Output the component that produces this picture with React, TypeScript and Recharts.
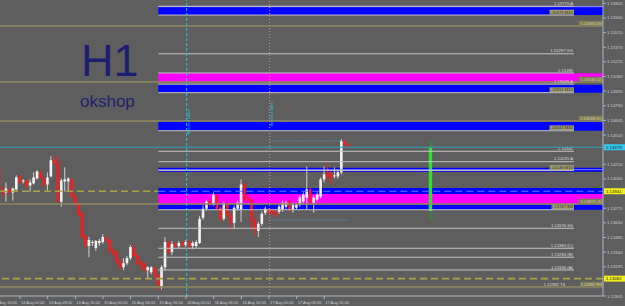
import React from "react";
import { ComposedChart, Bar, XAxis, YAxis, ReferenceLine, ReferenceArea } from "recharts";

// EURUSD H1, one bar per hour, first bar = 13 Aug 18:00
const opens = [
  1.1419, 1.1396, 1.1393, 1.1396, 1.1393, 1.1396, 1.1409, 1.1404, 1.1405, 1.14,
  1.1402, 1.1407, 1.1413, 1.1407, 1.1401, 1.1409, 1.1425, 1.1423, 1.1384, 1.1404,
  1.1404, 1.1406, 1.139, 1.1382, 1.1373, 1.135, 1.134, 1.1343, 1.1338, 1.1343,
  1.1344, 1.1348, 1.1346, 1.1336, 1.1334, 1.1325, 1.1319, 1.1323, 1.1328, 1.1338,
  1.1331, 1.1324, 1.1323, 1.1316, 1.1314, 1.1318, 1.1311, 1.13, 1.1319, 1.1344,
  1.1334, 1.1342, 1.134, 1.1343, 1.1341, 1.1344, 1.134, 1.134, 1.1343, 1.1368,
  1.1377, 1.1385, 1.1381, 1.139, 1.1378, 1.1367, 1.1382, 1.1371, 1.1363, 1.1377,
  1.1376, 1.1401, 1.1388, 1.1386, 1.1366, 1.1355, 1.1362, 1.1373, 1.1376, 1.1375,
  1.1374, 1.1374, 1.1376, 1.1379, 1.1384, 1.1376, 1.1378, 1.1381, 1.1384, 1.1388,
  1.1396, 1.1383, 1.1386, 1.1389, 1.1406, 1.1413, 1.1411, 1.1409, 1.1409, 1.1413,
  1.1444, 1.1441,
];
const highs = [
  1.1426, 1.1399, 1.1403, 1.1398, 1.1398, 1.141, 1.1411, 1.1406, 1.1406, 1.1406,
  1.1413, 1.1415, 1.1415, 1.1408, 1.1413, 1.1429, 1.1429, 1.1429, 1.1407, 1.1418,
  1.1408, 1.1407, 1.1391, 1.1383, 1.1374, 1.1352, 1.1349, 1.1346, 1.1346, 1.1347,
  1.1352, 1.135, 1.1347, 1.1338, 1.1335, 1.1327, 1.1328, 1.133, 1.1341, 1.1342,
  1.1332, 1.1326, 1.1324, 1.132, 1.132, 1.132, 1.1313, 1.1321, 1.1349, 1.1346,
  1.1345, 1.1344, 1.1345, 1.1346, 1.1346, 1.1346, 1.1345, 1.1346, 1.137, 1.138,
  1.1386, 1.1387, 1.1393, 1.1392, 1.138, 1.1384, 1.1384, 1.1373, 1.138, 1.1385,
  1.1406, 1.1403, 1.1392, 1.1387, 1.1368, 1.1364, 1.1374, 1.1379, 1.1378, 1.1377,
  1.1376, 1.1381, 1.1385, 1.1385, 1.1386, 1.1383, 1.1383, 1.139, 1.1393, 1.1419,
  1.1398, 1.139, 1.1393, 1.1408, 1.1419, 1.1421, 1.1414, 1.1418, 1.1415, 1.1446,
  1.1445, 1.1442,
];
const lows = [
  1.139, 1.1388, 1.1384, 1.1391, 1.1385, 1.1395, 1.1401, 1.1402, 1.1398, 1.1394,
  1.1401, 1.1406, 1.1406, 1.1399, 1.1395, 1.1408, 1.142, 1.1382, 1.1379, 1.1394,
  1.1394, 1.1388, 1.138, 1.1369, 1.1347, 1.1338, 1.1329, 1.134, 1.1335, 1.134,
  1.1342, 1.1343, 1.1333, 1.133, 1.1322, 1.1316, 1.1316, 1.1321, 1.1326, 1.1328,
  1.1321, 1.1316, 1.1314, 1.1307, 1.1312, 1.1308, 1.1296, 1.1297, 1.1316, 1.1332,
  1.1331, 1.1338, 1.1338, 1.1339, 1.1339, 1.1336, 1.1337, 1.1338, 1.1342, 1.1366,
  1.1375, 1.1379, 1.138, 1.1375, 1.1364, 1.1365, 1.1369, 1.1356, 1.1357, 1.1375,
  1.1364, 1.1384, 1.1383, 1.1356, 1.135, 1.1349, 1.136, 1.1371, 1.1371, 1.1371,
  1.1368, 1.1372, 1.1374, 1.1377, 1.1374, 1.1373, 1.1376, 1.1379, 1.1382, 1.1376,
  1.1381, 1.1373, 1.1384, 1.1387, 1.1403, 1.1404, 1.1401, 1.1407, 1.1407, 1.1411,
  1.1439, 1.1438,
];
const closes = [
  1.1393, 1.1393, 1.1397, 1.1393, 1.1397, 1.1408, 1.1403, 1.1405, 1.1399, 1.1403,
  1.1408, 1.1414, 1.1407, 1.14, 1.1408, 1.1425, 1.1422, 1.1384, 1.1405, 1.1406,
  1.1407, 1.1389, 1.1381, 1.1371, 1.1349, 1.134, 1.1346, 1.1344, 1.1345, 1.1345,
  1.1349, 1.1345, 1.1335, 1.1333, 1.1324, 1.1319, 1.1323, 1.1328, 1.1339, 1.133,
  1.1323, 1.1321, 1.1317, 1.1319, 1.1319, 1.1311, 1.13, 1.1319, 1.1344, 1.1334,
  1.1342, 1.134, 1.1343, 1.1341, 1.1344, 1.134, 1.1343, 1.1344, 1.1367, 1.1377,
  1.1384, 1.1381, 1.1391, 1.1377, 1.1367, 1.1382, 1.1371, 1.1363, 1.1378, 1.1383,
  1.1401, 1.1386, 1.1385, 1.1366, 1.1356, 1.1362, 1.1372, 1.1377, 1.1373, 1.1373,
  1.1371, 1.1379, 1.1383, 1.1383, 1.1376, 1.1381, 1.1381, 1.1388, 1.1391, 1.1396,
  1.1383, 1.1388, 1.1391, 1.1406, 1.1411, 1.1408, 1.1408, 1.141, 1.1413, 1.1444,
  1.1441, 1.1439,
];

// time axis labels (bar index -> text)
const timeTicks = [-2, 6, 14, 22, 30, 38, 46, 54, 62, 70, 78, 86, 94];
const timeLabels = [
  "13 Aug 16:00", "14 Aug 00:00", "14 Aug 08:00", "14 Aug 16:00", "15 Aug 00:00",
  "15 Aug 08:00", "15 Aug 16:00", "16 Aug 00:00", "16 Aug 08:00", "16 Aug 16:00",
  "17 Aug 00:00", "17 Aug 08:00", "17 Aug 16:00",
];
// price scale labels (the ones hidden under the price tags are left out)
const priceTicks = [
  1.15805, 1.1566, 1.15515, 1.1537, 1.15225, 1.1508, 1.14935, 1.1479, 1.14645, 1.145,
  1.1421, 1.14065, 1.13775, 1.1363, 1.13485, 1.1334, 1.13195, 1.12905,
];

// zones drawn from 15 Aug 16:00 to the right edge: [low, high]
const blueZones = [
  [1.15689, 1.15772], [1.1492, 1.14999], [1.14543, 1.14632],
  [1.14137, 1.14176], [1.13916, 1.13975], [1.1376, 1.1381],
];
const magentaZones = [[1.15029, 1.15112], [1.13817, 1.13916]];

// grey level lines with a plain label
const greyLevels: [number, string][] = [
  [1.15776, "1.15770 A"], [1.15305, "1.15297 GG"], [1.15115, "1.15186"],
  [1.15005, "1.15005 A"], [1.14339, "1.14341"], [1.14236, "1.14245 A"],
  [1.13576, "1.13576 SS"], [1.13378, "1.13384 (C)"], [1.13289, "1.13294 (B)"],
  [1.13163, "1.13166 (A)"],
];
// grey lines at zone edges with a boxed label
const boxLevels: [number, string][] = [
  [1.15689, "1.15679 M10"], [1.1492, "1.14914 M10"], [1.14543, "1.14541 M30"],
  [1.14149, "1.14149 M10"], [1.1376, "1.13767 M3"],
];
// full width khaki lines
const khakiLevels: [number, string][] = [
  [1.1558, "1.15584 (3)"], [1.15025, "1.15034 (2)"], [1.14639, "1.14638 (C)"],
  [1.13817, "1.13825 (1)"], [1.12994, "1.12992 R3"],
];
const dashedLevels = [1.13943, 1.13077];
const dashedTags = ["1.13941", "1.13082"];
const bidPrice = 1.14379;
const sessionStarts = [54.2, 78.2];
const sessionLabelMid = [122, 114];
const sessionHigh = 1.14441;
const sessionLow = 1.13658;
const signalBar = { i: 124.7, open: 1.13747, close: 1.14372, high: 1.14441, low: 1.13648 };

const zoneFrom = 46;
const lineTo = 166.2;
const xMin = 0.217;
const xMax = 174.6;

const BG = "#5e5e5e";
const AXIS = "#a8b4c0";
const KHAKI = "#8e8a62";
const GREY = "#c4c4c4";
const FONT = "'Liberation Sans', Arial, sans-serif";

const candles = opens.map((o, i) => ({
  i,
  open: o,
  high: highs[i],
  low: lows[i],
  close: closes[i],
  range: [lows[i], highs[i]],
}));

function Candle(props: any) {
  const { x, y, width, height, payload } = props;
  if (!payload) return null;
  const top = Math.min(y, y + height);
  const h = Math.abs(height);
  const span = payload.high - payload.low || 1e-9;
  const py = (p: number) => top + ((payload.high - p) / span) * h;
  const cx = x + width / 2;
  const up = payload.close >= payload.open;
  const b1 = py(Math.max(payload.open, payload.close));
  const b2 = py(Math.min(payload.open, payload.close));
  return (
    <g>
      <line x1={cx} x2={cx} y1={top} y2={top + h} stroke={up ? "#d0d0d0" : "#ff1a1a"} strokeWidth={1} />
      <rect x={cx - 1.3} y={b1} width={2.6} height={Math.max(b2 - b1, 1)} fill={up ? "#f4f4f4" : "#ff1a1a"} />
    </g>
  );
}

const plainLabel = (text: string) => (p: any) => {
  const vb = p.viewBox;
  return (
    <text x={vb.x + vb.width - 1} y={vb.y - 1.3} textAnchor="end" fontSize={4.2} fill="#dcdcdc" fontFamily={FONT}>
      {text}
    </text>
  );
};

const boxLabel = (text: string, fill: string, color: string) => (p: any) => {
  const vb = p.viewBox;
  const w = text.length * 2.05 + 2;
  const xr = vb.x + vb.width;
  return (
    <g>
      <rect x={xr - w} y={vb.y - 5.3} width={w} height={5} fill={fill} />
      <text x={xr - 1} y={vb.y - 1.4} textAnchor="end" fontSize={4.2} fill={color} fontFamily={FONT}>
        {text}
      </text>
    </g>
  );
};

const axisTag = (text: string, fill: string) => (p: any) => {
  const vb = p.viewBox;
  const xr = vb.x + vb.width;
  return (
    <g>
      <rect x={xr + 1} y={vb.y - 3} width={21} height={6} fill={fill} />
      <text x={xr + 3} y={vb.y + 1.6} fontSize={4.3} fill="#202020" fontFamily={FONT}>
        {text}
      </text>
    </g>
  );
};

const sessionLabel = (mid: number) => (p: any) => {
  const vb = p.viewBox;
  const tx = vb.x + 3;
  const ty = vb.y + mid;
  return (
    <text x={tx} y={ty} transform={`rotate(-90 ${tx} ${ty})`} textAnchor="middle" fontSize={4} fill="#19d4e6" fontFamily={FONT}>
      Session Open
    </text>
  );
};

function XTick(props: any) {
  const { x, y, payload } = props;
  const k = timeTicks.indexOf(payload.value);
  return (
    <text x={x + 1} y={y + 2.5} fontSize={4} fill="#c8d0d8" fontFamily={FONT}>
      {timeLabels[k]}
    </text>
  );
}

function YTick(props: any) {
  const { x, y, payload } = props;
  return (
    <text x={x} y={y + 1.5} fontSize={4.3} fill="#c8d0d8" fontFamily={FONT}>
      {Number(payload.value).toFixed(5)}
    </text>
  );
}

export default function App() {
  return (
    <div style={{ position: "relative", width: 625, height: 306, background: BG }}>
      <style>{`body{margin:0;background:${BG}}`}</style>
      <ComposedChart width={625} height={306} data={candles} margin={{ top: 0, right: 0, bottom: 0, left: 0 }}>
        <XAxis
          dataKey="i"
          type="number"
          domain={[xMin, xMax]}
          allowDataOverflow
          ticks={timeTicks}
          interval={0}
          height={10}
          tickSize={3}
          tick={<XTick />}
          stroke={AXIS}
        />
        <YAxis
          orientation="right"
          type="number"
          domain={[1.12905, 1.15838]}
          allowDataOverflow
          ticks={priceTicks}
          interval={0}
          width={22}
          tickSize={3}
          tickMargin={1}
          tick={<YTick />}
          stroke={AXIS}
        />
        {khakiLevels.map(([p]) => (
          <ReferenceLine key={"k" + p} y={p} stroke={KHAKI} strokeWidth={1.4} />
        ))}
        <ReferenceLine
          segment={[{ x: xMin, y: dashedLevels[0] }, { x: zoneFrom, y: dashedLevels[0] }]}
          stroke="#a8a246"
          strokeWidth={1.6}
          strokeDasharray="7 4"
        />
        {blueZones.map(([a, b]) => (
          <ReferenceArea key={"b" + a} x1={zoneFrom} x2={xMax} y1={a} y2={b} fill="#0000ff" fillOpacity={1} stroke="none" />
        ))}
        {magentaZones.map(([a, b]) => (
          <ReferenceArea key={"m" + a} x1={zoneFrom} x2={xMax} y1={a} y2={b} fill="#ff00ff" fillOpacity={1} stroke="none" />
        ))}
        <ReferenceLine
          segment={[{ x: zoneFrom, y: dashedLevels[0] }, { x: xMax, y: dashedLevels[0] }]}
          stroke="#5a78ff"
          strokeWidth={1.2}
          strokeDasharray="7 4"
        />
        <ReferenceLine
          segment={[{ x: zoneFrom, y: blueZones[0][1] }, { x: xMax, y: blueZones[0][1] }]}
          stroke="#9a9aff"
          strokeWidth={1}
        />
        <ReferenceLine
          segment={[{ x: zoneFrom, y: 1.14157 }, { x: xMax, y: 1.14157 }]}
          stroke="#9a9aff"
          strokeWidth={0.8}
        />
        {greyLevels.map(([p, t]) => (
          <ReferenceLine
            key={"g" + p}
            segment={[{ x: zoneFrom, y: p }, { x: lineTo, y: p }]}
            stroke={GREY}
            strokeWidth={1}
            label={plainLabel(t)}
          />
        ))}
        {boxLevels.map(([p, t]) => (
          <ReferenceLine
            key={"x" + p}
            segment={[{ x: zoneFrom, y: p }, { x: lineTo, y: p }]}
            stroke={GREY}
            strokeWidth={1}
            label={boxLabel(t, "#a29e74", "#2e2e22")}
          />
        ))}
        {khakiLevels.map(([p, t]) => (
          <ReferenceLine
            key={"kl" + p}
            segment={[{ x: xMax - 6.2, y: p }, { x: xMax, y: p }]}
            stroke="none"
            label={boxLabel(t, "#7e7b58", "#d8d39c")}
          />
        ))}
        <ReferenceLine
          segment={[{ x: 158, y: khakiLevels[4][0] }, { x: 164, y: khakiLevels[4][0] }]}
          stroke="none"
          label={plainLabel("1.12992 TS")}
        />
        <ReferenceLine y={dashedLevels[1]} stroke="#a8a246" strokeWidth={1.6} strokeDasharray="7 4" label={axisTag(dashedTags[1], "#f2ee1a")} />
        <ReferenceLine y={dashedLevels[0]} stroke="none" label={axisTag(dashedTags[0], "#f2ee1a")} />
        <ReferenceLine y={bidPrice} stroke="#2aa6c4" strokeWidth={1} label={axisTag(bidPrice.toFixed(5), "#33c8f0")} />
        {sessionStarts.map((s, k) => (
          <ReferenceLine
            key={"s" + s}
            x={s}
            stroke={k === 0 ? "#19c8d8" : "#d08aa0"}
            strokeWidth={1}
            strokeDasharray={k === 0 ? "3 2" : "1 2"}
            label={sessionLabel(sessionLabelMid[k])}
          />
        ))}
        <ReferenceLine
          segment={[{ x: sessionStarts[1], y: sessionHigh }, { x: 100, y: sessionHigh }]}
          stroke="#5aa0d8"
          strokeDasharray="1 2"
        />
        <ReferenceLine
          segment={[{ x: sessionStarts[1], y: sessionLow }, { x: 101, y: sessionLow }]}
          stroke="#5aa0d8"
          strokeDasharray="1 2"
        />
        <Bar dataKey="range" barSize={3} shape={(p: any) => <Candle {...p} />} isAnimationActive={false} />
        {/* signal bar: wick above and below the body, then the body */}
        <ReferenceLine
          segment={[{ x: signalBar.i, y: signalBar.close }, { x: signalBar.i, y: signalBar.high }]}
          stroke="#2f9e2f"
          strokeWidth={1}
        />
        <ReferenceLine
          segment={[{ x: signalBar.i, y: signalBar.low }, { x: signalBar.i, y: signalBar.open }]}
          stroke="#2f9e2f"
          strokeWidth={1}
        />
        <ReferenceArea
          x1={signalBar.i - 0.5}
          x2={signalBar.i + 0.5}
          y1={signalBar.open}
          y2={signalBar.close}
          fill="#2ee02e"
          fillOpacity={1}
          stroke="none"
        />
      </ComposedChart>
      <svg width={625} height={306} style={{ position: "absolute", left: 0, top: 0, pointerEvents: "none" }}>
        <text x={81} y={76} fontSize={45} fill="#1e1e70" fontFamily={FONT}>
          H1
        </text>
        <text x={80} y={106.5} fontSize={17} fill="#22226c" fontFamily={FONT}>
          okshop
        </text>
      </svg>
    </div>
  );
}
